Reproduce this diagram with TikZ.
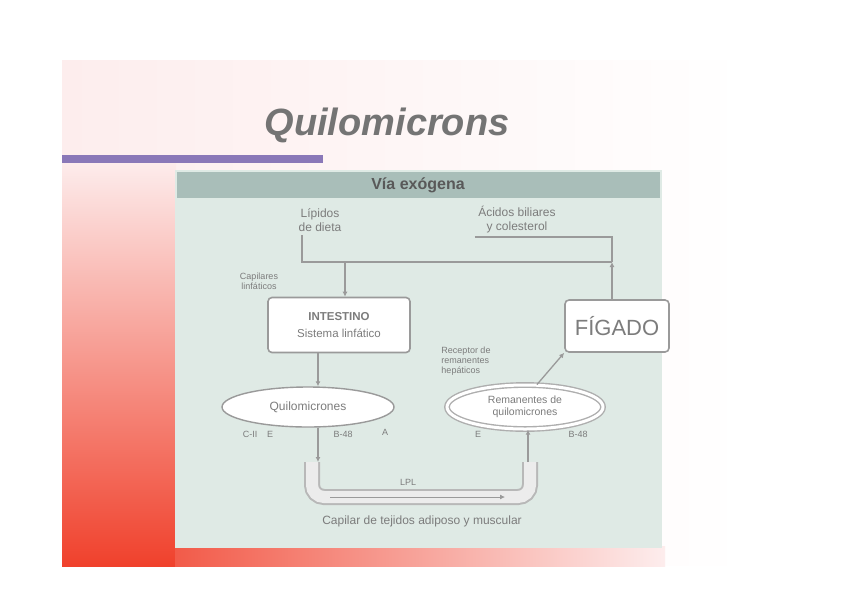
\documentclass[tikz,border=0pt]{standalone}
\usepackage{fontspec}
\setmainfont{Liberation Sans}
\usetikzlibrary{shapes.geometric,arrows.meta}
\definecolor{panel}{HTML}{DFEAE5}
\definecolor{header}{HTML}{A9BEB9}
\definecolor{ink}{HTML}{7C7C7C}
\definecolor{edge}{HTML}{9A9A9A}
\definecolor{titlegray}{HTML}{747474}
\definecolor{barpurple}{HTML}{8A78B8}
\definecolor{slidered}{HTML}{F0412C}
\definecolor{slidepink}{HTML}{FDEDED}
\tikzset{
  x=1pt, y=-1pt,
  wbox/.style={draw=edge, line width=1.6pt, rounded corners=4pt, fill=white, text=ink, align=center},
  small/.style={font=\fontsize{12}{14}\selectfont, text=ink, align=center},
  tiny/.style={font=\fontsize{9}{10}\selectfont, text=ink, align=center},
  conn/.style={draw=edge, line width=1.3pt},
  arr/.style={conn, -{Latex[length=5pt,width=5pt]}},
  ellbox/.style={ellipse, draw=edge, line width=1.4pt, fill=white, text=ink, align=center, inner sep=0pt},
}
\begin{document}
\begin{tikzpicture}
\useasboundingbox (0,0) rectangle (842,595);
\fill[white] (0,0) rectangle (842,595);
% slide background
\shade[left color=slidepink, right color=white] (62,60) rectangle (745,565);
\shade[top color=slidepink, bottom color=slidered] (62,160) rectangle (176,566);
\shade[left color=slidered!85!slidepink, right color=slidepink] (175,546) rectangle (665,566);
% title
\node[font=\fontsize{38}{38}\selectfont\bfseries\itshape, text=titlegray] (title) at (387,125) {Quilomicrons};
\fill[barpurple] (62,155) rectangle (323,163);
% panel
\fill[panel] (175,170) rectangle (662,548);
\fill[header] (177,172) rectangle (660,198);
\node[font=\fontsize{16}{16}\selectfont\bfseries, text=black!65] (hdr) at (418,185) {Vía exógena};
% top labels
\node[small] (lip) at (320,220) {Lípidos\\de dieta};
\node[small] (acid) at (517,220) {Ácidos biliares\\y colesterol};
% boxes
\node[wbox, minimum width=142pt, minimum height=55pt] (int) at (339,325)
  {{\fontsize{11.5}{12}\selectfont\bfseries INTESTINO}\\[5pt]{\fontsize{11.5}{12}\selectfont Sistema linfático}};
\node[wbox, minimum width=104pt, minimum height=52pt, inner sep=1pt, font=\fontsize{22}{22}\selectfont] (liver) at (617,326) {FÍGADO};
\node[tiny] (capl) at (259,281) {Capilares\\linfáticos};
\node[tiny, align=left] (recep) at (466,361) {Receptor de\\remanentes\\hepáticos};
% ellipses
\node[ellbox, minimum width=172pt, minimum height=40pt, font=\fontsize{12}{13}\selectfont] (qm) at (308,407) {Quilomicrones};
\node[ellbox, minimum width=156pt, minimum height=44pt, double=white, double distance=3pt, draw=edge!80, font=\fontsize{10.5}{12}\selectfont] (rem) at (525,407) {Remanentes de\\quilomicrones};
% apolipoprotein labels
\node[tiny] (ac) at (250,434) {C-II};
\node[tiny] (ae) at (270,434) {E};
\node[tiny] (ab) at (343,434) {B-48};
\node[tiny] (aa) at (385,432) {A};
\node[tiny] (re) at (478,434) {E};
\node[tiny] (rb) at (578,434) {B-48};
% tube
\coordinate (tL) at (312,462);
\coordinate (tR) at (530,462);
\draw[draw=edge!70, line width=2pt, double=white!85!gray, double distance=12pt, rounded corners=12pt]
  (tL) -- (312,497) -- (530,497) -- (tR);
\node[tiny] (lpl) at (408,482) {LPL};
\coordinate (aS) at (330,497);
\coordinate (aE) at (505,497);
\draw[conn, line width=0.8pt, -{Latex[length=5pt,width=5pt]}] (aS) -- (aE);
\node[small] (cap) at (422,521) {Capilar de tejidos adiposo y muscular};
% connectors
\coordinate (j1) at (302,262);
\coordinate (j2) at (612,262);
\coordinate (j3) at (345,262);
\draw[conn] (lip.south -| j1) -- (j1) -- (j2);
\draw[conn] (acid.south west) -- (acid.south west -| j2) -- (j2);
\draw[arr] (j3) -- (int.north -| j3);
\draw[arr] (liver.north -| j2) -- (j2);
\draw[arr] (int.south -| 318,0) -- (qm.north -| 318,0);
\draw[arr] (qm.south -| 318,0) -- (318,462);
\draw[arr] (528,462) -- (rem.south -| 528,0);
\draw[arr] (rem.62) -- (liver.south west);
\end{tikzpicture}
\end{document}
